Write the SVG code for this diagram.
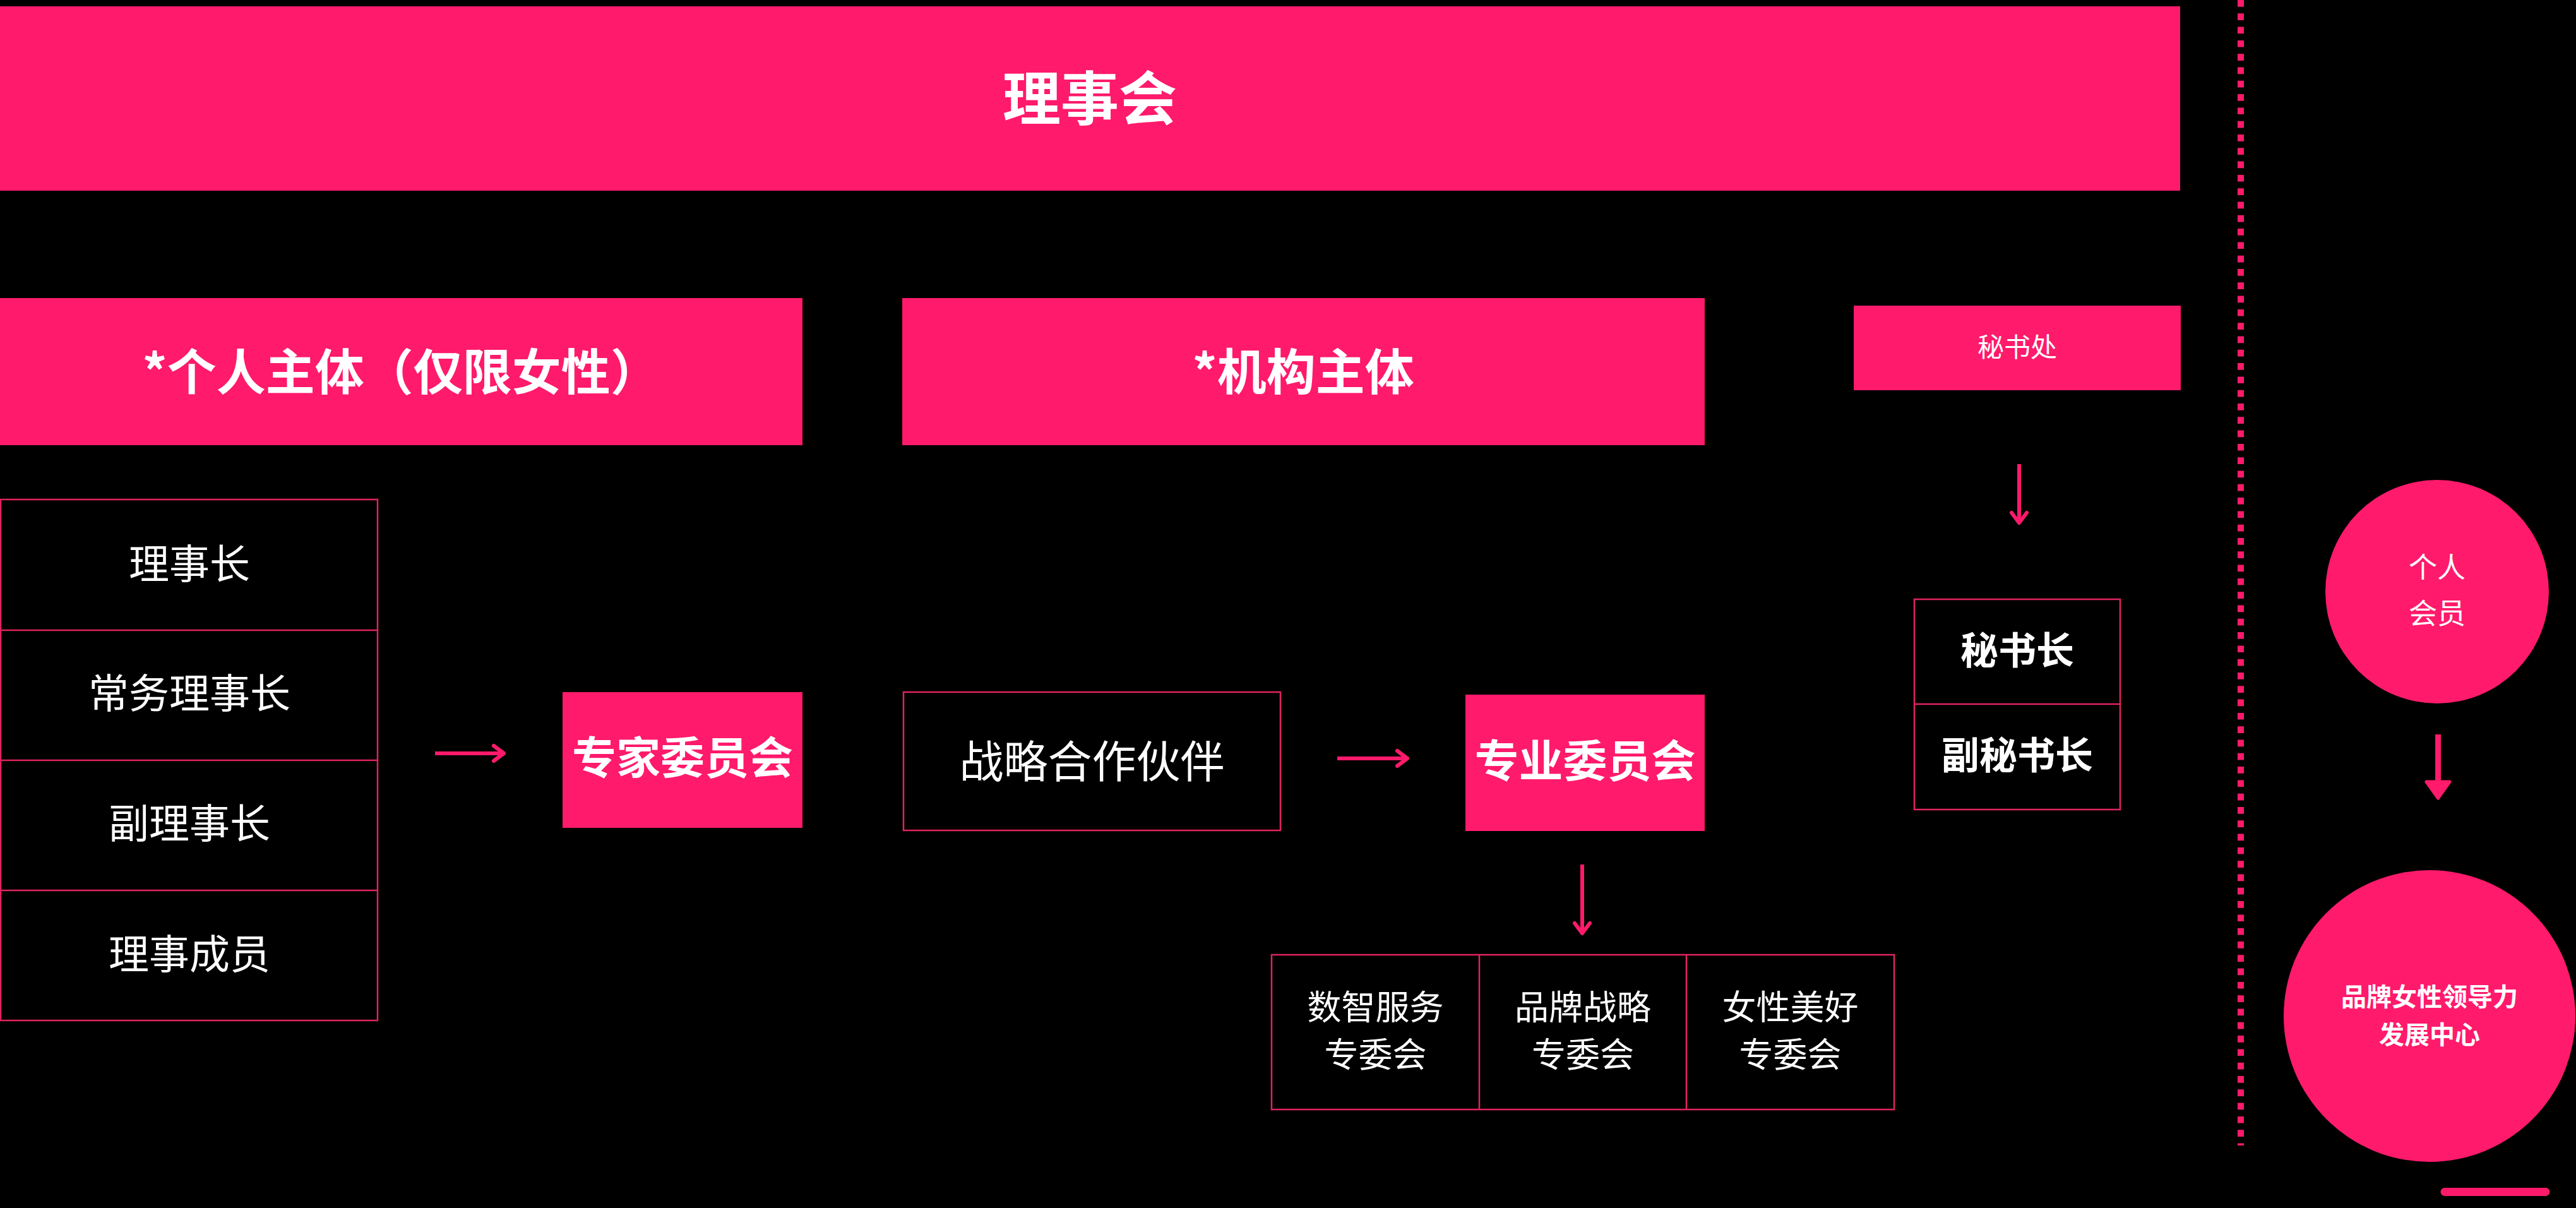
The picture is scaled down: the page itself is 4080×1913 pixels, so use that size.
<svg xmlns="http://www.w3.org/2000/svg" width="4080" height="1913" viewBox="0 0 4080 1913">
<defs>
<style>
.fill{fill:#FF1A6B}
.out{fill:none;stroke:#E0245E;stroke-width:2.5}
.div{stroke:#E0245E;stroke-width:2.5}
.t{font-family:"Noto Sans CJK SC","Noto Sans",sans-serif;fill:#FFFFFF;text-anchor:middle}
.b{font-weight:700}
.con{stroke:#FF1A6B;stroke-width:6;fill:none}
</style>
<marker id="chev" markerUnits="userSpaceOnUse" viewBox="-22 -16 28 32" markerWidth="28" markerHeight="32" refX="0" refY="0" orient="auto">
<path d="M-16,-12 L0,0 L-16,12" fill="none" stroke="#FF1A6B" stroke-width="6" stroke-linecap="round" stroke-linejoin="round"/>
</marker>
</defs>
<rect x="0" y="0" width="4080" height="1913" fill="#000000"/>

<g id="board">
<rect class="fill" x="0" y="10" width="3453" height="292"/>
<text class="t b" x="1726" y="190" font-size="92">理事会</text>
</g>

<g id="individual">
<rect class="fill" x="0" y="472" width="1271" height="233"/>
<text class="t b" x="635" y="618" font-size="78">*个人主体（仅限女性）</text>
</g>

<g id="institution">
<rect class="fill" x="1429" y="472" width="1271" height="233"/>
<text class="t b" x="2064" y="618" font-size="78">*机构主体</text>
</g>

<g id="secretariat">
<rect class="fill" x="2936" y="484" width="518" height="134"/>
<text class="t" x="3195" y="565" font-size="42">秘书处</text>
</g>

<g id="board-roles">
<rect class="out" x="1" y="791" width="597" height="825"/>
<line class="div" x1="1" y1="998" x2="598" y2="998"/>
<line class="div" x1="1" y1="1204" x2="598" y2="1204"/>
<line class="div" x1="1" y1="1410" x2="598" y2="1410"/>
<text class="t" x="300" y="916" font-size="64">理事长</text>
<text class="t" x="300" y="1121" font-size="64">常务理事长</text>
<text class="t" x="300" y="1327" font-size="64">副理事长</text>
<text class="t" x="300" y="1534" font-size="64">理事成员</text>
</g>

<g id="expert-committee">
<rect class="fill" x="891" y="1096" width="380" height="215"/>
<text class="t b" x="1081" y="1226" font-size="70">专家委员会</text>
</g>

<g id="partners">
<rect class="out" x="1431" y="1096" width="597" height="219"/>
<text class="t" x="1729.5" y="1232" font-size="70">战略合作伙伴</text>
</g>

<g id="professional-committee">
<rect class="fill" x="2321" y="1100" width="379" height="216"/>
<text class="t b" x="2510.5" y="1231" font-size="70">专业委员会</text>
</g>

<g id="sub-committees">
<rect class="out" x="2014" y="1512" width="986" height="245"/>
<line class="div" x1="2343" y1="1512" x2="2343" y2="1757"/>
<line class="div" x1="2671" y1="1512" x2="2671" y2="1757"/>
<text class="t" x="2178.5" y="1615" font-size="54">数智服务</text>
<text class="t" x="2178.5" y="1690" font-size="54">专委会</text>
<text class="t" x="2507" y="1615" font-size="54">品牌战略</text>
<text class="t" x="2507" y="1690" font-size="54">专委会</text>
<text class="t" x="2835.5" y="1615" font-size="54">女性美好</text>
<text class="t" x="2835.5" y="1690" font-size="54">专委会</text>
</g>

<g id="secretary-roles">
<rect class="out" x="3032" y="949" width="326" height="333"/>
<line class="div" x1="3032" y1="1115" x2="3358" y2="1115"/>
<text class="t b" x="3195" y="1052" font-size="60">秘书长</text>
<text class="t b" x="3195" y="1218" font-size="60">副秘书长</text>
</g>

<g id="personal-member">
<circle class="fill" cx="3860" cy="937" r="177"/>
<text class="t" x="3860" y="915" font-size="45">个人</text>
<text class="t" x="3860" y="988" font-size="45">会员</text>
</g>

<g id="leadership-center">
<circle class="fill" cx="3848" cy="1609" r="231"/>
<text class="t b" x="3848" y="1593" font-size="40">品牌女性领导力</text>
<text class="t b" x="3848" y="1653" font-size="40">发展中心</text>
</g>

<g id="connectors">
<line class="con" x1="689" y1="1193" x2="798" y2="1193" marker-end="url(#chev)"/>
<line class="con" x1="2118" y1="1201" x2="2229" y2="1201" marker-end="url(#chev)"/>
<line class="con" x1="2506" y1="1369" x2="2506" y2="1478" marker-end="url(#chev)"/>
<line class="con" x1="3198" y1="735" x2="3198" y2="828" marker-end="url(#chev)"/>
<line x1="3861.5" y1="1163" x2="3861.5" y2="1240" stroke="#FF1A6B" stroke-width="9"/>
<path d="M3843,1238 L3880,1238 L3861.5,1264 Z" fill="#FF1A6B" stroke="#FF1A6B" stroke-width="5" stroke-linejoin="round"/>
</g>

<g id="separator">
<line x1="3549" y1="0" x2="3549" y2="1814" stroke="#FF1A6B" stroke-width="10" stroke-dasharray="10.7 10.6"/>
</g>

<g id="bottom-bar">
<line x1="3872" y1="1887.5" x2="4032" y2="1887.5" stroke="#FF1A6B" stroke-width="13" stroke-linecap="round"/>
</g>
</svg>
